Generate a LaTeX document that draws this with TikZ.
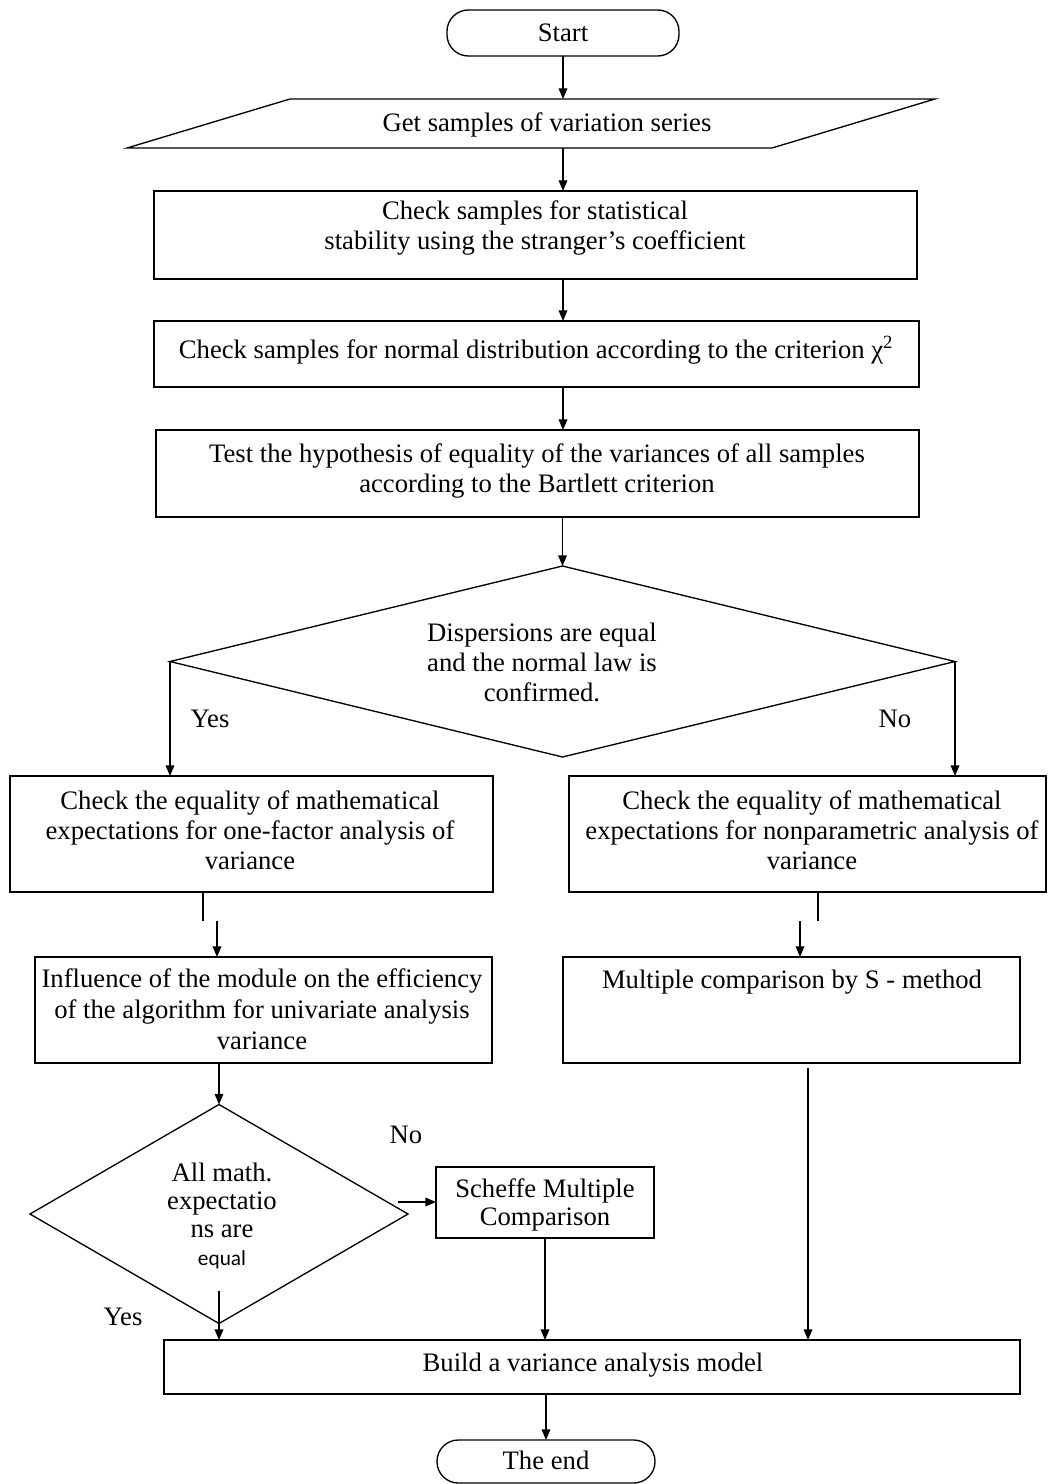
\documentclass[tikz,border=0pt]{standalone}
\usepackage{fontspec}
\setmainfont{Liberation Serif}
\newfontfamily\carlito{Carlito}
\usetikzlibrary{arrows.meta,shapes.geometric,fit}
\begin{document}
\begin{tikzpicture}[x=0.75pt,y=-0.75pt,
  box/.style={draw, rectangle, inner sep=0pt, outer sep=0pt, line width=1pt},
  term/.style={draw, rectangle, rounded corners=16pt, inner sep=0pt, outer sep=0pt, line width=1pt},
  dia/.style={draw, diamond, inner sep=0pt, outer sep=0pt, line width=1pt},
  txt/.style={inner sep=0pt, align=center, yshift=-2.25pt, font=\fontsize{20}{22.5}\selectfont},
  one/.style={txt, text height=13.3pt, text depth=4.1pt},
  arr/.style={-{Triangle[length=8pt,width=6.5pt]}, line width=1pt},
  ln/.style={line width=1pt}]
\useasboundingbox (0,0) rectangle (1047,1484);
% Start
\node[term, fit={(447,10)(679,56)}] (start) {};
\node[one] (tstart) at (563,32) {Start};
% parallelogram
\coordinate (pbl) at (127,148);
\coordinate (pbr) at (772,148);
\coordinate (ptr) at (935,99);
\coordinate (ptl) at (290,99);
\draw[ln] (pbl) -- (pbr) -- (ptr) -- (ptl) -- cycle;
\node[one] (tpara) at (547,122) {Get samples of variation series};
% boxes
\node[box, fit={(154,191)(917,279)}] (b1) {};
\node[txt] (tb1) at (535,225) {Check samples for statistical\\stability using the stranger’s coefficient};
\node[box, fit={(154,321)(919,387)}] (b2) {};
\node[one] (tb2) at (536,349) {Check samples for normal distribution according to the criterion χ\textsuperscript{2}};
\node[box, fit={(156,430)(919,517)}] (b3) {};
\node[txt] (tb3) at (537,468) {Test the hypothesis of equality of the variances of all samples\\according to the Bartlett criterion};
% decision 1
\node[dia, minimum width=588.75pt, minimum height=143.25pt] (d1) at (562.5,661.5) {};
\node[txt] (td1) at (542,659) {Dispersions are equal\\and the normal law is\\confirmed.};
\node[one] (yes1) at (210,718) {Yes};
\node[one] (no1) at (895,718) {No};
% branches
\node[box, fit={(10,776)(493,892)}] (lb) {};
\node[txt] (tlb) at (250,827) {Check the equality of mathematical\\expectations for one-factor analysis of\\variance};
\node[box, fit={(569,776)(1046,892)}] (rb) {};
\node[txt] (trb) at (812,827) {Check the equality of mathematical\\expectations for nonparametric analysis of\\variance};
\node[box, fit={(35,957)(492,1063)}] (lb2) {};
\node[txt, font=\fontsize{20}{23.25}\selectfont] (tlb2) at (262,1006.5) {Influence of the module on the efficiency\\of the algorithm for univariate analysis\\variance};
\node[box, fit={(563,957)(1020,1063)}] (rb2) {};
\node[one] (trb2) at (792,979) {Multiple comparison by S - method};
% decision 2
\node[dia, minimum width=283.5pt, minimum height=164.25pt] (d2) at (219,1214) {};
\node[txt, font=\fontsize{20}{21}\selectfont] (td2) at (222,1213) {All math.\\expectatio\\ns are\\{\carlito\fontsize{16}{21}\selectfont equal}};
\node[one] (no2) at (406,1134) {No};
\node[one] (yes2) at (123,1316) {Yes};
\node[box, fit={(436,1167)(654,1238)}] (sch) {};
\node[txt, font=\fontsize{20}{21}\selectfont] (tsch) at (545,1202) {Scheffe Multiple\\Comparison};
% build and end
\node[box, fit={(164,1340)(1020,1394)}] (build) {};
\node[one] (tbuild) at (593,1362) {Build a variance analysis model};
\node[term, fit={(437,1440)(655,1483)}] (end) {};
\node[one] (tend) at (546,1460) {The end};
% connectors
\draw[arr] (start.south) -- (start.south |- ptl);
\draw[arr] (start.south |- pbl) -- (start.south |- b1.north);
\draw[arr] (start.south |- b1.south) -- (start.south |- b2.north);
\draw[arr] (start.south |- b2.south) -- (start.south |- b3.north);
\draw[arr] (d1.north |- b3.south) -- (d1.north);
\draw[arr] (d1.west) -- (d1.west |- lb.north);
\draw[arr] (d1.east) -- (d1.east |- rb.north);
\coordinate (lk1) at (203,921);
\coordinate (lk2) at (217,921);
\draw[ln] (lk1 |- lb.south) -- (lk1);
\draw[arr] (lk2) -- (lk2 |- lb2.north);
\coordinate (rk1) at (818,921);
\coordinate (rk2) at (800,921);
\draw[ln] (rk1 |- rb.south) -- (rk1);
\draw[arr] (rk2) -- (rk2 |- rb2.north);
\draw[arr] (d2.north |- lb2.south) -- (d2.north);
\coordinate (d2o) at ([shift={(-10,-12)}]d2.east);
\draw[arr] (d2o) -- (d2o -| sch.west);
\draw[arr] (sch.south) -- (sch.south |- build.north);
\draw[arr] ([shift={(0,-33)}]d2.south) -- (d2.south |- build.north);
\coordinate (rk3) at (808,1068);
\draw[arr] (rk3) -- (rk3 |- build.north);
\draw[arr] (end.north |- build.south) -- (end.north);
\end{tikzpicture}
\end{document}
